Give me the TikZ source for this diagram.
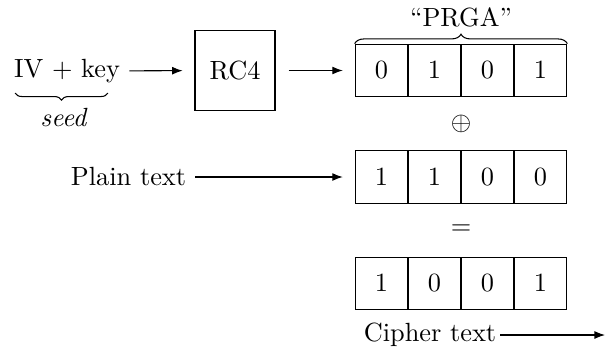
\documentclass[tikz,border=0pt]{standalone}
\usetikzlibrary{arrows.meta,decorations.pathreplacing}

\tikzset{
  bit/.style={draw,minimum size=20pt,inner sep=0pt},
  tip/.style={-{Latex[length=4pt,width=3pt]}},
  arr/.style={tip,shorten >=4.5pt},
  curly/.style={decorate,decoration={brace,amplitude=#1}}
}

\begin{document}
\begin{tikzpicture}[x=0.38pt,y=-0.38pt]
      \useasboundingbox (0,0) rectangle (608,348);

      % key stream, plain text, cipher text
      \begin{scope}[every node/.style={bit}]
        \node (k1) at (381.5,70.5)  {$0$};
        \node (k2) at (434.5,70.5)  {$1$};
        \node (k3) at (487.5,70.5)  {$0$};
        \node (k4) at (540.5,70.5)  {$1$};
        \node (p1) at (381.5,177)   {$1$};
        \node (p2) at (434.5,177)   {$1$};
        \node (p3) at (487.5,177)   {$0$};
        \node (p4) at (540.5,177)   {$0$};
        \node (c1) at (381.5,283.5) {$1$};
        \node (c2) at (434.5,283.5) {$0$};
        \node (c3) at (487.5,283.5) {$0$};
        \node (c4) at (540.5,283.5) {$1$};
      \end{scope}

      \node (key)    at (67,71)    {IV $+$ key};
      \node (rc4)    at (235,70.5) [draw,minimum size=30.4pt] {RC4};
      \node (seed)   at (64,118)   {\textit{seed}};
      \node (prga)   at (461,17)   {``PRGA''};
      \node (xor)    at (461,124)  {$\oplus$};
      \node (eq)     at (461,230)  {$=$};
      \node (plain)  at (128.5,177) {Plain text};
      \node (cipher) at (430,335)  {Cipher text};
      \coordinate (out) at (605,335);

      \coordinate (sl) at (15,93);
      \coordinate (sr) at (108,93);

      \draw[curly=2.7pt] (sr) -- (sl);
      \draw[curly=3.6pt] (k1.north west) -- (k4.north east);

      \path (key)    edge[arr] (rc4);
      \path (rc4)    edge[arr,shorten <=5pt] (k1);
      \path (plain)  edge[arr] (p1);
      \path (cipher) edge[tip,shorten <=-2pt] (out);

    \end{tikzpicture}
\end{document}
